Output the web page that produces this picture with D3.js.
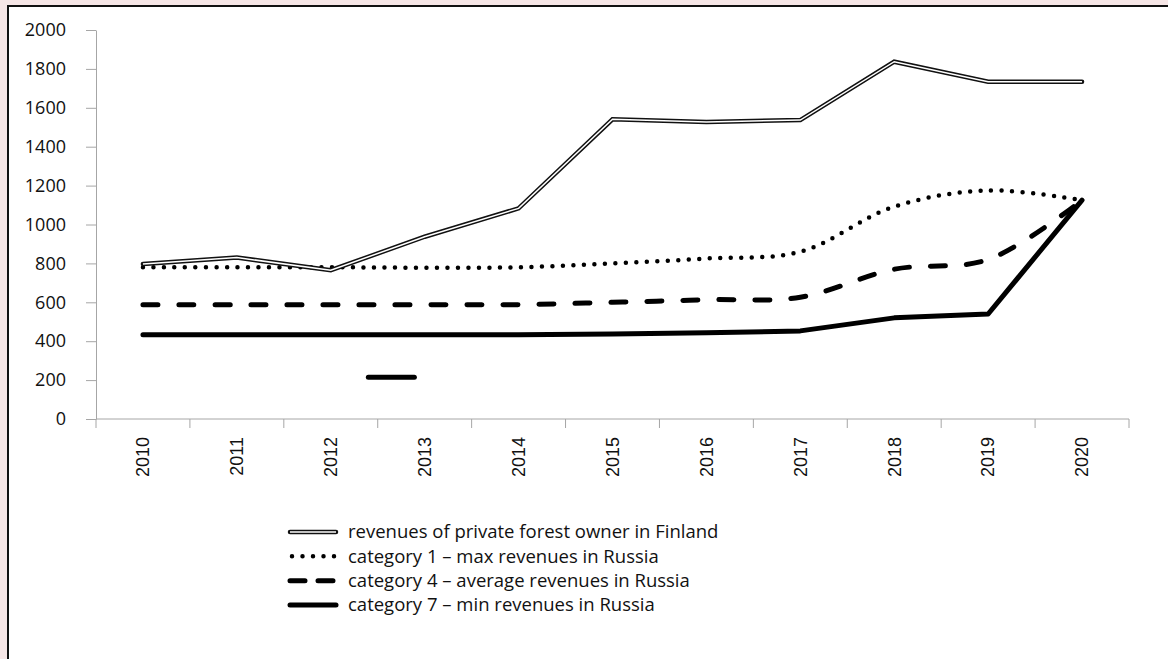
<!DOCTYPE html>
<html>
<head>
<meta charset="utf-8">
<script src="https://cdn.jsdelivr.net/npm/d3@7"></script>
<style>
  html, body { margin: 0; padding: 0; background: #f6e6e6; }
  svg { display: block; }
</style>
</head>
<body>
<svg id="chart"></svg>
<script>
// values
var years = ["2010", "2011", "2012", "2013", "2014", "2015", "2016", "2017", "2018", "2019", "2020"];
var finland = [797, 830, 765, 937, 1083, 1541, 1527, 1537, 1837, 1734, 1734];
var cat1 = [780, 780, 780, 778, 780, 800, 825, 860, 1092, 1175, 1125];
var cat4 = [588, 588, 588, 588, 588, 600, 613, 626, 770, 820, 1125];
var cat7 = [433, 433, 433, 433, 433, 437, 443, 453, 520, 540, 1125];
var yTicks = [0, 200, 400, 600, 800, 1000, 1200, 1400, 1600, 1800, 2000];
var legendLabels = [
    "revenues of private forest owner in Finland",
    "category 1 \u2013 max revenues in Russia",
    "category 4 \u2013 average revenues in Russia",
    "category 7 \u2013 min revenues in Russia"
];
// stray legend-like stroke left in the plot (category index, value)
var strayIdx = [2.4, 2.89];
var strayVal = 215;

var width = 1168;
var height = 659;
var plotLeft = 96, plotRight = 1129, plotTop = 30, plotBottom = 419;

var svg = d3.select("#chart")
    .attr("width", width)
    .attr("height", height);

// white panel with dark frame
svg.append("rect")
    .attr("x", 8).attr("y", 6)
    .attr("width", width).attr("height", height)
    .attr("fill", "#fff")
    .attr("stroke", "#111")
    .attr("stroke-width", 2);

var x = d3.scaleBand()
    .domain(years)
    .range([plotLeft, plotRight])
    .paddingInner(0).paddingOuter(0);

var xIdx = d3.scaleLinear()
    .domain([-0.5, years.length - 0.5])
    .range([plotLeft, plotRight]);

var y = d3.scaleLinear()
    .domain([0, 2000])
    .range([plotBottom, plotTop]);

var cx = d => x(d) + x.bandwidth() / 2;

// y axis
var yAxis = d3.axisLeft(y)
    .tickValues(yTicks)
    .tickFormat(d3.format("d"))
    .tickSize(10)
    .tickPadding(20)
    .tickSizeOuter(0);

var gy = svg.append("g")
    .attr("transform", `translate(${plotLeft},0)`)
    .call(yAxis);
gy.select(".domain").attr("stroke", "#a6a6a6");
gy.selectAll(".tick line").attr("stroke", "#a6a6a6");
gy.selectAll(".tick text")
    .attr("fill", "#111")
    .style("font-family", "'Open Sans', sans-serif")
    .style("font-size", "18px");

// x axis: ticks on band edges
var gx = svg.append("g");
gx.append("line")
    .attr("x1", plotLeft).attr("x2", plotRight)
    .attr("y1", plotBottom).attr("y2", plotBottom)
    .attr("stroke", "#a6a6a6");
gx.selectAll("line.tk")
    .data(years.concat(["end"]))
    .enter()
    .append("line")
    .attr("class", "tk")
    .attr("x1", (d, i) => plotLeft + i * x.bandwidth())
    .attr("x2", (d, i) => plotLeft + i * x.bandwidth())
    .attr("y1", plotBottom).attr("y2", plotBottom + 9)
    .attr("stroke", "#a6a6a6");
gx.selectAll("text")
    .data(years)
    .enter()
    .append("text")
    .attr("transform", d => `translate(${cx(d)},437) rotate(-90)`)
    .attr("dy", "0.35em")
    .style("text-anchor", "end")
    .style("font-family", "'Liberation Sans', Arial, sans-serif")
    .style("font-size", "18px")
    .attr("fill", "#111")
    .text(d => d);

var straight = d3.line()
    .x((d, i) => cx(years[i]))
    .y(d => y(d));

var smooth = d3.line()
    .x((d, i) => cx(years[i]))
    .y(d => y(d))
    .curve(d3.curveCatmullRom.alpha(0.5));

// series styles
var styles = [
    {data: finland, gen: straight, double: true},
    {data: cat1, gen: smooth, width: 4.5, dash: "0 10.5", cap: "round"},
    {data: cat4, gen: smooth, width: 5, dash: "15 21", cap: "round"},
    {data: cat7, gen: straight, width: 5, dash: null, cap: "round"}
];

styles.slice().reverse().forEach(function(s){
    if (s.double) {
        svg.append("path")
            .attr("d", s.gen(s.data))
            .attr("fill", "none")
            .attr("stroke", "#111")
            .attr("stroke-width", 4.5)
            .attr("stroke-linecap", "round");
        svg.append("path")
            .attr("d", s.gen(s.data))
            .attr("fill", "none")
            .attr("stroke", "#fff")
            .attr("stroke-width", 1.5);
    } else {
        svg.append("path")
            .attr("d", s.gen(s.data))
            .attr("fill", "none")
            .attr("stroke", "#000")
            .attr("stroke-width", s.width)
            .attr("stroke-linecap", s.cap)
            .attr("stroke-linejoin", "round")
            .attr("stroke-dasharray", s.dash);
    }
});

// stray stroke
svg.append("line")
    .attr("x1", xIdx(strayIdx[0])).attr("x2", xIdx(strayIdx[1]))
    .attr("y1", y(strayVal)).attr("y2", y(strayVal))
    .attr("stroke", "#000")
    .attr("stroke-width", 5)
    .attr("stroke-linecap", "round");

// legend
var legend = svg.append("g");
var rowY = d3.scalePoint().domain(d3.range(4)).range([532, 605]);
legendLabels.forEach(function(label, i){
    var s = styles[i];
    var ly = rowY(i);
    if (s.double) {
        legend.append("line")
            .attr("x1", 290).attr("x2", 336).attr("y1", ly).attr("y2", ly)
            .attr("stroke", "#111").attr("stroke-width", 4.5).attr("stroke-linecap", "round");
        legend.append("line")
            .attr("x1", 290).attr("x2", 336).attr("y1", ly).attr("y2", ly)
            .attr("stroke", "#fff").attr("stroke-width", 1.5);
    } else {
        legend.append("line")
            .attr("x1", s.dash === "0 10.5" ? 292 : 290)
            .attr("x2", 336)
            .attr("y1", ly).attr("y2", ly)
            .attr("stroke", "#000")
            .attr("stroke-width", s.width)
            .attr("stroke-linecap", s.cap)
            .attr("stroke-dasharray", s.dash === "15 21" ? "15 13" : s.dash);
    }
    legend.append("text")
        .attr("x", 348)
        .attr("y", ly)
        .attr("dy", "0.35em")
        .style("font-family", "'Open Sans', sans-serif")
        .style("font-size", "18.5px")
        .attr("fill", "#111")
        .text(label);
});
</script>
</body>
</html>
